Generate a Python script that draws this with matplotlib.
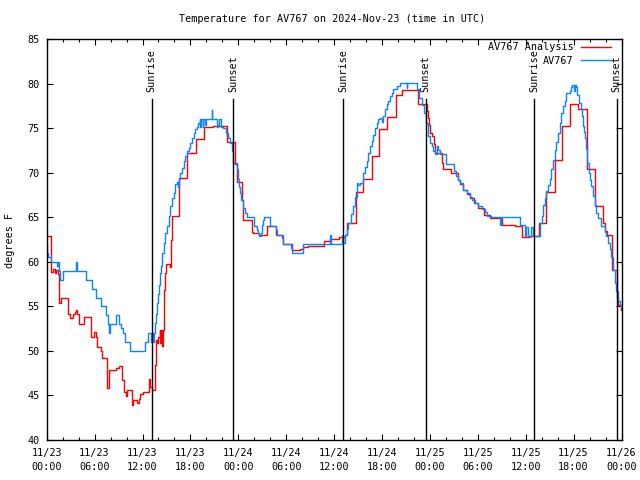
import numpy as np
import pandas as pd
import matplotlib
matplotlib.use("Agg")
from matplotlib import pyplot as plt
import matplotlib.dates as mdates
import matplotlib.transforms as mtransforms

# Hours after 2024-11-23 00:00 UTC and temperature (F), drawn as steps
analysis_hours = [0.0, 0.6, 0.8, 1.0, 1.2, 1.4, 1.58, 1.74, 2.62, 2.9, 3.33, 3.5, 3.67, 3.84,
                  4.05, 4.68, 5.6, 5.93, 6.14, 6.27, 6.77, 6.98, 7.61, 7.86, 8.7, 9.11, 9.41,
                  9.7, 9.95, 10.12, 10.66, 10.87, 11.3, 11.5, 11.7, 12.05, 12.76, 12.97, 13.18,
                  13.51, 13.64, 13.8, 14.0, 14.14, 14.25, 14.35, 14.43, 14.56, 14.64, 14.77,
                  14.89, 15.48, 15.61, 15.73, 16.63, 17.56, 18.69, 19.72, 20.85, 22.64, 23.6,
                  23.89, 24.5, 24.63, 25.76, 25.88, 26.63, 27.64, 28.68, 29.42, 29.64, 30.69,
                  31.73, 32.15, 32.73, 34.73, 35.49, 36.62, 37.36, 37.57, 38.71, 39.66, 40.71,
                  41.66, 42.67, 43.71, 44.46, 46.55, 47.6, 47.72, 47.89, 48.01, 48.22, 48.52,
                  48.64, 49.56, 49.69, 50.65, 51.49, 51.78, 52.2, 52.61, 53.03, 53.57, 54.08,
                  54.79, 55.53, 55.96, 57.0, 58.66, 59.5, 60.54, 61.66, 62.54, 63.66, 64.58,
                  65.5, 66.6, 67.71, 68.68, 69.68, 69.9, 70.15, 70.77, 71.4, 71.6, 71.9, 72.0]
analysis_temp = [62.9, 58.9, 59.2, 58.7, 59.1, 58.6, 55.4, 56.0, 54.1, 53.7, 54.1, 54.4, 54.6, 54.1,
                 53.0, 53.8, 51.6, 52.1, 51.6, 50.5, 50.0, 49.2, 45.85, 47.9, 48.1, 48.3, 46.75,
                 45.4, 44.9, 45.6, 43.9, 44.5, 44.2, 44.6, 45.2, 45.4, 46.8, 45.9, 45.6,
                 48.4, 51.25, 50.9, 51.6, 52.4, 50.9, 52.4, 50.6, 52.4, 56.9, 58.8,
                 59.8, 59.4, 62.5, 65.1, 69.4, 72.2, 73.8, 75.1, 75.3, 73.5, 71.0,
                 69.0, 67.0, 64.75, 63.4, 63.2, 63.0, 64.0, 63.0, 62.7, 62.0, 61.3,
                 61.5, 61.7, 61.8, 62.4, 62.6, 62.8, 63.0, 64.4, 67.9, 69.3, 71.95,
                 74.9, 76.3, 78.8, 79.3, 77.7, 77.0, 76.2, 75.4, 74.5, 74.1, 73.2,
                 72.2, 71.1, 70.4, 70.0, 69.25, 68.7, 68.1, 67.6, 67.2, 66.6, 66.1,
                 65.3, 64.95, 64.9, 64.2, 64.0, 62.8, 62.9, 64.4, 67.8, 71.5, 75.3,
                 77.7, 77.2, 70.45, 66.3, 64.4, 63.5, 63.0, 59.1, 56.1, 55.2, 54.6, 54.6]

obs_hours = [0.0, 0.05, 0.2, 0.48, 1.32, 1.45, 1.58, 1.66, 2.08, 3.67, 3.84, 4.88, 5.64, 6.23,
             6.77, 7.4, 7.69, 7.86, 7.94, 8.7, 9.11, 9.3, 9.53, 9.83, 10.46, 12.34, 12.7,
             13.1, 13.18, 13.26, 13.39, 13.56, 13.64, 13.81, 13.93, 14.02, 14.14, 14.31,
             14.43, 14.73, 14.85, 15.06, 15.27, 15.48, 15.69, 15.9, 16.1, 16.3, 16.42,
             16.63, 16.72, 16.93, 17.14, 17.35, 17.56, 17.77, 17.98, 18.19, 18.39, 18.6,
             18.81, 19.01, 19.14, 19.22, 19.35, 19.56, 19.64, 19.85, 19.98, 20.68, 20.76,
             21.31, 21.41, 21.52, 21.85, 22.13, 22.47, 22.76, 22.97, 23.18, 23.39, 23.81,
             23.95, 24.05, 24.22, 24.34, 24.56, 24.84, 25.14, 25.97, 26.33, 26.51, 26.63,
             26.81, 27.02, 27.14, 27.27, 27.97, 28.68, 28.81, 29.64, 30.57, 30.69, 32.15,
             35.49, 35.61, 36.94, 37.15, 37.36, 37.57, 37.78, 38.08, 38.33, 38.62, 38.83,
             39.04, 39.25, 39.66, 39.87, 40.08, 40.28, 40.49, 40.71, 40.91, 41.12, 41.33,
             41.54, 41.75, 41.95, 42.16, 42.37, 42.58, 42.79, 43.0, 43.21, 43.41, 43.84,
             44.25, 45.1, 45.17, 46.42, 46.63, 46.96, 47.26, 47.51, 47.8, 48.01, 48.22,
             48.43, 48.64, 48.85, 49.06, 49.27, 50.02, 51.06, 51.27, 51.48, 51.77, 52.11,
             52.61, 53.03, 53.24, 53.66, 54.08, 54.5, 54.92, 55.13, 55.66, 56.79, 56.86,
             59.29, 59.9, 60.1, 60.3, 60.72, 60.93, 61.77, 61.98, 62.18, 62.39, 62.6, 62.8,
             63.01, 63.22, 63.43, 63.64, 63.85, 64.06, 64.27, 64.48, 64.69, 64.9, 65.11,
             65.52, 65.73, 65.85, 66.06, 66.14, 66.36, 66.48, 66.69, 66.9, 67.07, 67.19,
             67.32, 67.49, 67.61, 67.74, 67.9, 68.03, 68.24, 68.45, 68.66, 68.86, 69.06,
             69.49, 69.9, 70.11, 70.32, 70.53, 70.74, 70.95, 71.16, 71.37, 71.58, 71.79, 72.0]
obs_temp = [62.1, 61.0, 60.5, 60.0, 59.5, 60.0, 59.0, 58.0, 59.0, 60.0, 59.0, 58.0, 57.0, 56.0,
            55.0, 54.0, 53.0, 52.0, 53.0, 54.0, 53.0, 52.6, 52.0, 51.0, 50.0, 51.0, 52.0,
            51.0, 52.0, 51.0, 52.0, 53.1, 54.2, 55.4, 56.4, 57.4, 58.7, 59.5,
            61.0, 62.1, 63.25, 64.0, 65.1, 66.25, 67.2, 67.75, 68.7, 69.0, 68.4,
            69.3, 70.0, 70.6, 71.3, 71.9, 72.4, 72.8, 73.4, 73.9, 74.5, 74.9,
            75.1, 75.6, 76.0, 75.2, 76.0, 75.1, 76.0, 75.4, 76.0, 77.1, 76.0,
            75.2, 75.4, 76.0, 75.1, 75.0, 74.5, 73.9, 73.4, 72.4, 71.1, 70.4,
            69.3, 68.4, 67.75, 67.0, 66.1, 65.5, 65.05, 64.0, 63.6, 63.2, 62.9,
            63.2, 64.1, 64.75, 65.05, 64.0, 63.6, 63.0, 62.0, 61.6, 61.0, 62.0,
            63.0, 62.0, 63.0, 62.1, 63.0, 63.7, 64.4, 65.4, 66.25, 67.25, 68.9,
            68.6, 68.9, 70.0, 70.7, 71.3, 72.2, 73.0, 73.6, 74.3, 75.0, 75.6,
            76.0, 76.2, 75.7, 76.4, 77.2, 77.7, 78.1, 78.6, 79.0, 79.4, 79.75,
            80.1, 79.5, 80.1, 79.4, 78.4, 77.6, 76.7, 75.6, 74.1, 73.4, 73.0,
            72.5, 72.1, 73.0, 72.6, 72.1, 71.05, 70.2, 69.7, 69.2, 68.9, 68.1,
            67.7, 67.3, 66.9, 66.6, 66.25, 65.9, 65.6, 65.2, 65.0, 64.1, 65.0,
            64.1, 62.9, 63.9, 62.9, 63.9, 62.9, 64.4, 65.1, 66.4, 67.2, 68.0, 68.6,
            69.3, 70.4, 71.5, 72.6, 73.5, 74.5, 75.6, 76.75, 77.5, 78.1, 79.0,
            79.2, 79.6, 79.9, 79.2, 79.9, 79.6, 78.8, 77.9, 77.2, 76.4, 75.3,
            74.6, 73.9, 72.7, 71.1, 70.0, 69.25, 68.5, 67.4, 66.4, 65.5, 64.9,
            64.0, 63.4, 62.9, 62.1, 61.4, 60.6, 59.1, 57.6, 56.7, 55.6, 55.0, 55.0]

sunrise_hours = [13.15, 37.16, 61.08]
sunset_hours = [23.38, 47.48, 71.4]

start = pd.Timestamp("2024-11-23 00:00")
end = pd.Timestamp("2024-11-26 00:00")

def to_time(hours):
    return start + pd.to_timedelta(hours, unit="h")

plt.rcParams["font.family"] = ["DejaVu Sans Mono"]
plt.rcParams["font.size"] = 7.3

fig = plt.figure(figsize=(6.4, 4.8), dpi=100)
ax = fig.add_axes([46.7 / 640, 40 / 480, 574.8 / 640, 400.7 / 480])

ax.plot(to_time(analysis_hours), analysis_temp, drawstyle="steps-post",
        color="#ff0000", lw=1.0, label="AV767 Analysis")
ax.plot(to_time(obs_hours), obs_temp, drawstyle="steps-post",
        color="#0a84ff", lw=1.0, label="AV767")

trans = mtransforms.blended_transform_factory(ax.transData, ax.transAxes)
for name, hrs in [("Sunrise", sunrise_hours), ("Sunset", sunset_hours)]:
    for h in hrs:
        t = to_time(h)
        ax.axvline(t, ymin=0, ymax=0.851, color="black", lw=1.0)
        ax.text(t, 0.869, name, rotation=90, ha="center", va="bottom", transform=trans)

ax.set_xlim(start, end)
ax.set_ylim(40, 85)
ax.set_yticks(np.arange(40, 86, 5))
ax.xaxis.set_major_locator(mdates.HourLocator(byhour=[0, 6, 12, 18]))
ax.xaxis.set_minor_locator(mdates.HourLocator(byhour=range(0, 24, 2)))
ax.xaxis.set_major_formatter(mdates.DateFormatter("%m/%d\n%H:%M"))
ax.tick_params(which="both", direction="in", top=True, right=True, width=0.8)
ax.tick_params(which="major", length=4.5)
ax.tick_params(which="minor", length=2.5)
ax.tick_params(axis="x", pad=6)
ax.tick_params(axis="y", pad=5)
for lbl in ax.get_xticklabels():
    lbl.set_linespacing(1.45)
for s in ax.spines.values():
    s.set_linewidth(1.0)

ax.legend(loc="upper right", bbox_to_anchor=(0.981, 0.993), frameon=False,
          markerfirst=False, borderaxespad=0, borderpad=0, handlelength=2.9,
          handletextpad=0.75, labelspacing=0.35)

fig.text(332 / 640, 1 - 19 / 480, "Temperature for AV767 on 2024-Nov-23 (time in UTC)",
         ha="center", va="center")
fig.text(10 / 640, 1 - 240 / 480, "degrees F", rotation=90, ha="center", va="center")

fig.savefig("out.png", dpi=100)
